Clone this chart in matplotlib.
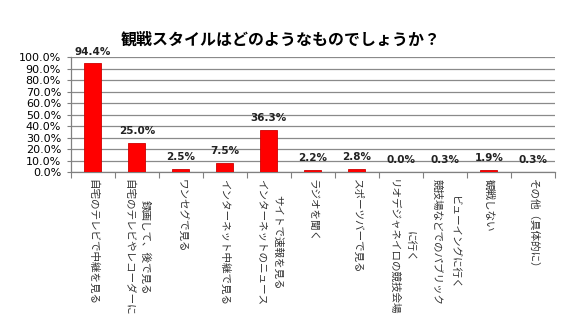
import matplotlib
matplotlib.use("Agg")
import matplotlib.pyplot as plt
import numpy as np

plt.rcParams['font.family'] = ['DejaVu Sans', 'Noto Sans CJK JP']

title = "観戦スタイルはどのようなものでしょうか？"
categories = [
    "自宅のテレビで中継を見る",
    "自宅のテレビやレコーダーに\n録画して、後で見る",
    "ワンセグで見る",
    "インターネット中継で見る",
    "インターネットのニュース\nサイトで速報を見る",
    "ラジオを聞く",
    "スポーツバーで見る",
    "リオデジャネイロの競技会場\nに行く",
    "競技場などでのパブリック\nビューイングに行く",
    "観戦しない",
    "その他（具体的に）",
]
values = [94.4, 25.0, 2.5, 7.5, 36.3, 2.2, 2.8, 0.0, 0.3, 1.9, 0.3]
yticks = np.arange(0, 101, 10)

fig = plt.figure(figsize=(5.69, 3.24), dpi=100)
ax = fig.add_axes([0.1243, 0.469, 0.851, 0.355])

x = np.arange(len(categories))
bars = ax.bar(x, values, width=0.39, color='#FF0000', edgecolor='#D00000',
              linewidth=0.6, zorder=3)

for xi, v in zip(x, values):
    ax.annotate(f"{v:.1f}%", (xi, v), xytext=(0, 5), textcoords='offset points',
                ha='center', va='bottom', fontsize=7.5, fontweight='bold',
                color='#222222')

ax.set_xlim(-0.5, len(categories) - 0.5)
ax.set_ylim(0, 100)
ax.set_yticks(yticks)
ax.set_yticklabels([f"{t:.1f}%" for t in yticks], fontsize=8)
ax.yaxis.grid(True, color='#8a8a8a', linewidth=0.9, zorder=0)
ax.set_axisbelow(True)

ax.set_xticks(x)
ax.set_xticklabels([])
ax.set_xticks(np.arange(-0.5, len(categories)), minor=True)
ax.tick_params(axis='x', which='major', length=0)
ax.tick_params(axis='x', which='minor', length=4, color='#808080', width=0.8)
ax.tick_params(axis='y', length=3, color='#808080', width=0.8, pad=4)

for side in ['top', 'right']:
    ax.spines[side].set_visible(False)
for side in ['left', 'bottom']:
    ax.spines[side].set_color('#808080')
    ax.spines[side].set_linewidth(0.9)

# rotated category labels, first line kept on the left
for xi, lab in zip(x, categories):
    txt = "\n".join(reversed(lab.split("\n")))
    ax.text(xi, -6, txt, rotation=-90, ha='center', va='top',
            multialignment='center', fontsize=7.6, linespacing=1.8,
            family=['Noto Sans CJK JP', 'DejaVu Sans'], color='#333333',
            transform=ax.transData, clip_on=False)

fig.text(0.494, 0.877, title, ha='center', va='center', fontsize=11.5,
         fontweight='bold', family=['Noto Sans CJK JP', 'DejaVu Sans'])

fig.savefig("out.png", dpi=100)
